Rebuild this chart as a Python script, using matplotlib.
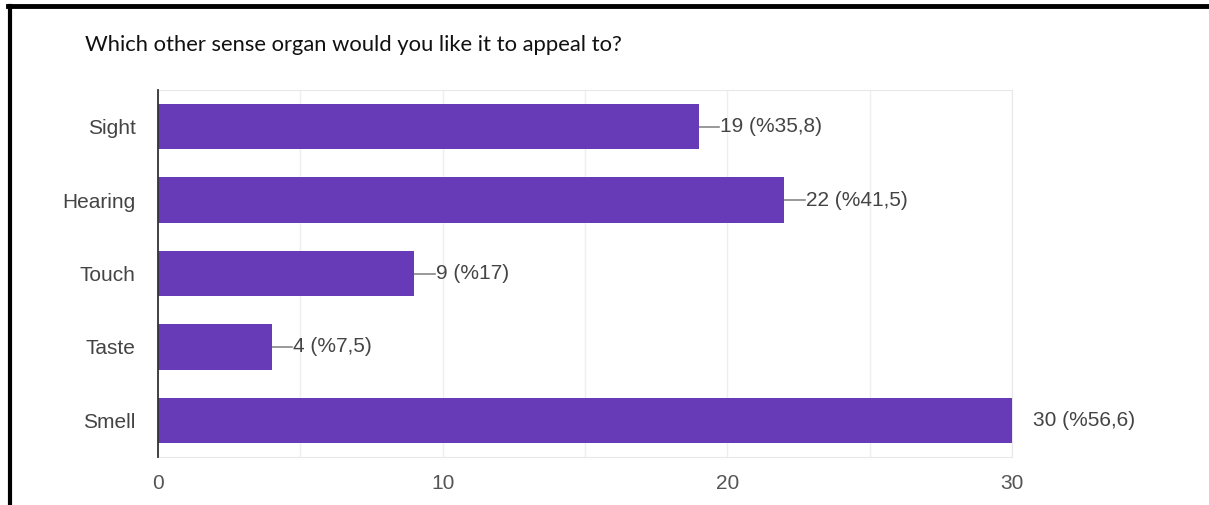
import matplotlib.pyplot as plt
from matplotlib.lines import Line2D

# Data
categories = ['Sight', 'Hearing', 'Touch', 'Taste', 'Smell']
counts = [19, 22, 9, 4, 30]
labels = ['19 (%35,8)', '22 (%41,5)', '9 (%17)', '4 (%7,5)', '30 (%56,6)']
xticks = [0, 10, 20, 30]
title = 'Which other sense organ would you like it to appeal to?'

bar_color = '#673AB7'
text_color = '#444444'

fig = plt.figure(figsize=(12.09, 5.05), dpi=100)
ax = fig.add_axes([158 / 1209, 1 - 457 / 505, (1012 - 158) / 1209, (457 - 90) / 505])

ypos = list(range(len(categories)))
ax.barh(ypos, counts, height=0.62, color=bar_color, zorder=3)
ax.set_ylim(len(categories) - 0.5, -0.5)
ax.set_xlim(0, 30)

# leader lines + value labels
for y, v, lab in zip(ypos, counts, labels):
    ax.plot([v, v + 0.72], [y, y], color='#888888', lw=1.2, zorder=2, clip_on=True)
    ax.text(v + 0.75, y, lab, va='center', ha='left', fontsize=15,
            color=text_color, family='Liberation Sans', clip_on=False)

ax.set_yticks(ypos)
ax.set_yticklabels(categories, fontsize=15, color=text_color, family='Liberation Sans')
ax.set_xticks(xticks)
ax.set_xticklabels([str(t) for t in xticks], fontsize=15, color='#555555',
                   family='Liberation Sans')
ax.set_xticks([5, 15, 25], minor=True)
ax.tick_params(axis='both', which='both', length=0)
ax.tick_params(axis='x', pad=12)
ax.tick_params(axis='y', pad=16)
ax.grid(axis='x', which='both', color='#eeeeee', lw=1, zorder=0)

for s in ['top', 'bottom', 'right']:
    ax.spines[s].set_color('#e8e8e8')
ax.spines['left'].set_color('#333333')
ax.spines['left'].set_linewidth(1.3)
ax.spines['left'].set_zorder(4)

fig.text(85 / 1209, 1 - 45 / 505, title, fontsize=15.8, family='Lato',
         color='#111111', va='center', ha='left')

# black frame lines (top and left)
fig.add_artist(Line2D([8 / 1209, 1], [1 - 6 / 505, 1 - 6 / 505], color='black', lw=3.5))
fig.add_artist(Line2D([9.5 / 1209, 9.5 / 1209], [0, 1 - 6 / 505], color='black', lw=3))

plt.savefig('out.png', dpi=100)
